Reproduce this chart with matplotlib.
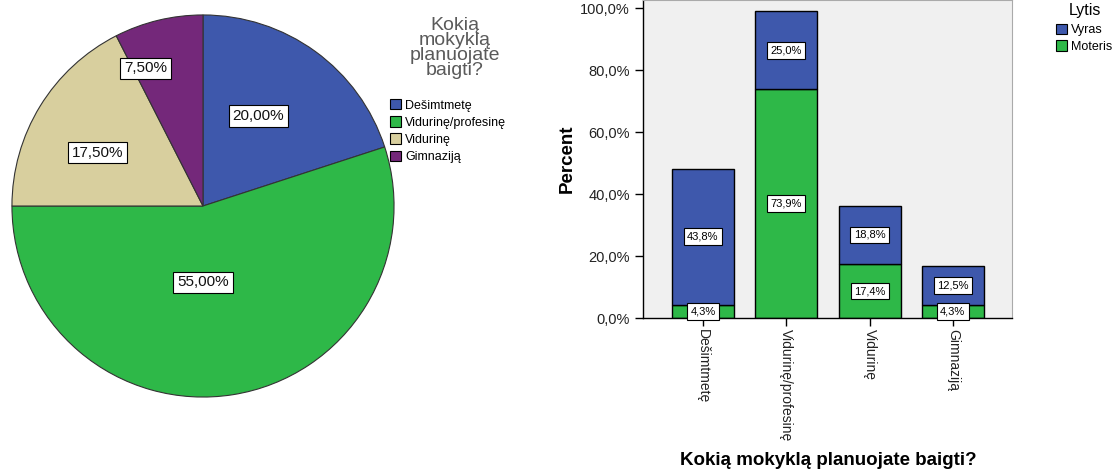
import matplotlib.pyplot as plt
from matplotlib.patches import Patch

plt.rcParams['font.family'] = ['Liberation Sans', 'DejaVu Sans']

# --- data ---
school_types = ["Dešimtmetę", "Vidurinę/profesinę", "Vidurinę", "Gimnaziją"]
pie_shares = [20.0, 55.0, 17.5, 7.5]
pie_colors = ["#3E58AC", "#2EB848", "#D8CF9E", "#74287A"]
# where SPSS dropped the pie labels (fraction of radius, x / y)
pie_label_x = [0.29, 0.0, -0.55, -0.30]
pie_label_y = [0.47, -0.40, 0.28, 0.72]

genders = ["Vyras", "Moteris"]
moteris_pct = [4.3, 73.9, 17.4, 4.3]
vyras_pct = [43.8, 25.0, 18.8, 12.5]
gender_colors = {"Vyras": "#3E58AC", "Moteris": "#2EB848"}

fig = plt.figure(figsize=(11.17, 4.69), dpi=100)

# ---------------------------
# Pie
# ---------------------------
ax_pie = fig.add_axes([11 / 1117, 71 / 469, 384 / 1117, 384 / 469])
ax_pie.pie(pie_shares, colors=pie_colors, startangle=90, counterclock=False,
           wedgeprops=dict(edgecolor="#333333", linewidth=0.8))
ax_pie.set_xlim(-1.005, 1.005)
ax_pie.set_ylim(-1.005, 1.005)
ax_pie.set_aspect("equal")
for share, lx, ly in zip(pie_shares, pie_label_x, pie_label_y):
    ax_pie.text(lx, ly, f"{share:.2f}%".replace(".", ","), ha="center", va="center",
                fontsize=11, color="#111111",
                bbox=dict(boxstyle="square,pad=0.25", fc="white", ec="black", lw=0.8))

fig.text(455 / 1117, 1 - 48 / 469, "Kokią\nmokyklą\nplanuojate\nbaigti?", ha="center",
         va="center", fontsize=14, color="#5A5A5A", linespacing=0.85)
pie_handles = [Patch(facecolor=c, edgecolor="black", linewidth=0.8) for c in pie_colors]
fig.legend(pie_handles, school_types, loc="upper left",
           bbox_to_anchor=(390 / 1117, 1 - 99 / 469), frameon=False, fontsize=9,
           handlelength=0.9, handleheight=0.9, handletextpad=0.3, labelspacing=0.38,
           borderaxespad=0, borderpad=0)

# ---------------------------
# Stacked bars
# ---------------------------
ax = fig.add_axes([643 / 1117, 1 - 318 / 469, 369 / 1117, 318 / 469])
ax.set_facecolor("#F0F0F0")
x = list(range(len(school_types)))
bw = 0.745
ax.bar(x, moteris_pct, bw, color=gender_colors["Moteris"], edgecolor="black", linewidth=1)
ax.bar(x, vyras_pct, bw, bottom=moteris_pct, color=gender_colors["Vyras"],
       edgecolor="black", linewidth=1)

box = dict(boxstyle="square,pad=0.3", fc="white", ec="black", lw=0.8)
for xi, m, v in zip(x, moteris_pct, vyras_pct):
    ax.text(xi, m / 2, f"{m:.1f}%".replace(".", ","), ha="center", va="center",
            fontsize=8, bbox=box, zorder=5)
    ax.text(xi, m + v / 2, f"{v:.1f}%".replace(".", ","), ha="center", va="center",
            fontsize=8, bbox=box, zorder=5)

ax.set_xlim(-0.72, 3.71)
ax.set_ylim(0, 102.6)
ax.set_yticks([0, 20, 40, 60, 80, 100])
ax.set_yticklabels([f"{t:.1f}%".replace(".", ",") for t in [0, 20, 40, 60, 80, 100]],
                   fontsize=10.5, color="#222222")
ax.set_xticks(x)
ax.set_xticklabels(school_types, rotation=-90, fontsize=10, color="#222222", va="top")
ax.tick_params(axis="both", direction="out", length=6, width=1)
ax.tick_params(axis="x", pad=2)
for side in ["top", "right"]:
    ax.spines[side].set_color("#AAAAAA")
ax.spines["left"].set_linewidth(1)
ax.spines["bottom"].set_linewidth(1)

ax.set_ylabel("Percent", fontsize=13.5, fontweight="bold", labelpad=3)
fig.text(828 / 1117, 1 - 460 / 469, "Kokią mokyklą planuojate baigti?", ha="center",
         va="center", fontsize=13.5, fontweight="bold")

fig.text(1085 / 1117, 1 - 11 / 469, "Lytis", ha="center", va="center", fontsize=11.5)
g_handles = [Patch(facecolor=gender_colors[g], edgecolor="black", linewidth=0.8) for g in genders]
fig.legend(g_handles, genders, loc="upper left", bbox_to_anchor=(1056 / 1117, 1 - 24 / 469),
           frameon=False, fontsize=9, handlelength=0.9, handleheight=0.9,
           handletextpad=0.3, labelspacing=0.3, borderaxespad=0, borderpad=0)

fig.savefig("out.png", dpi=100)
